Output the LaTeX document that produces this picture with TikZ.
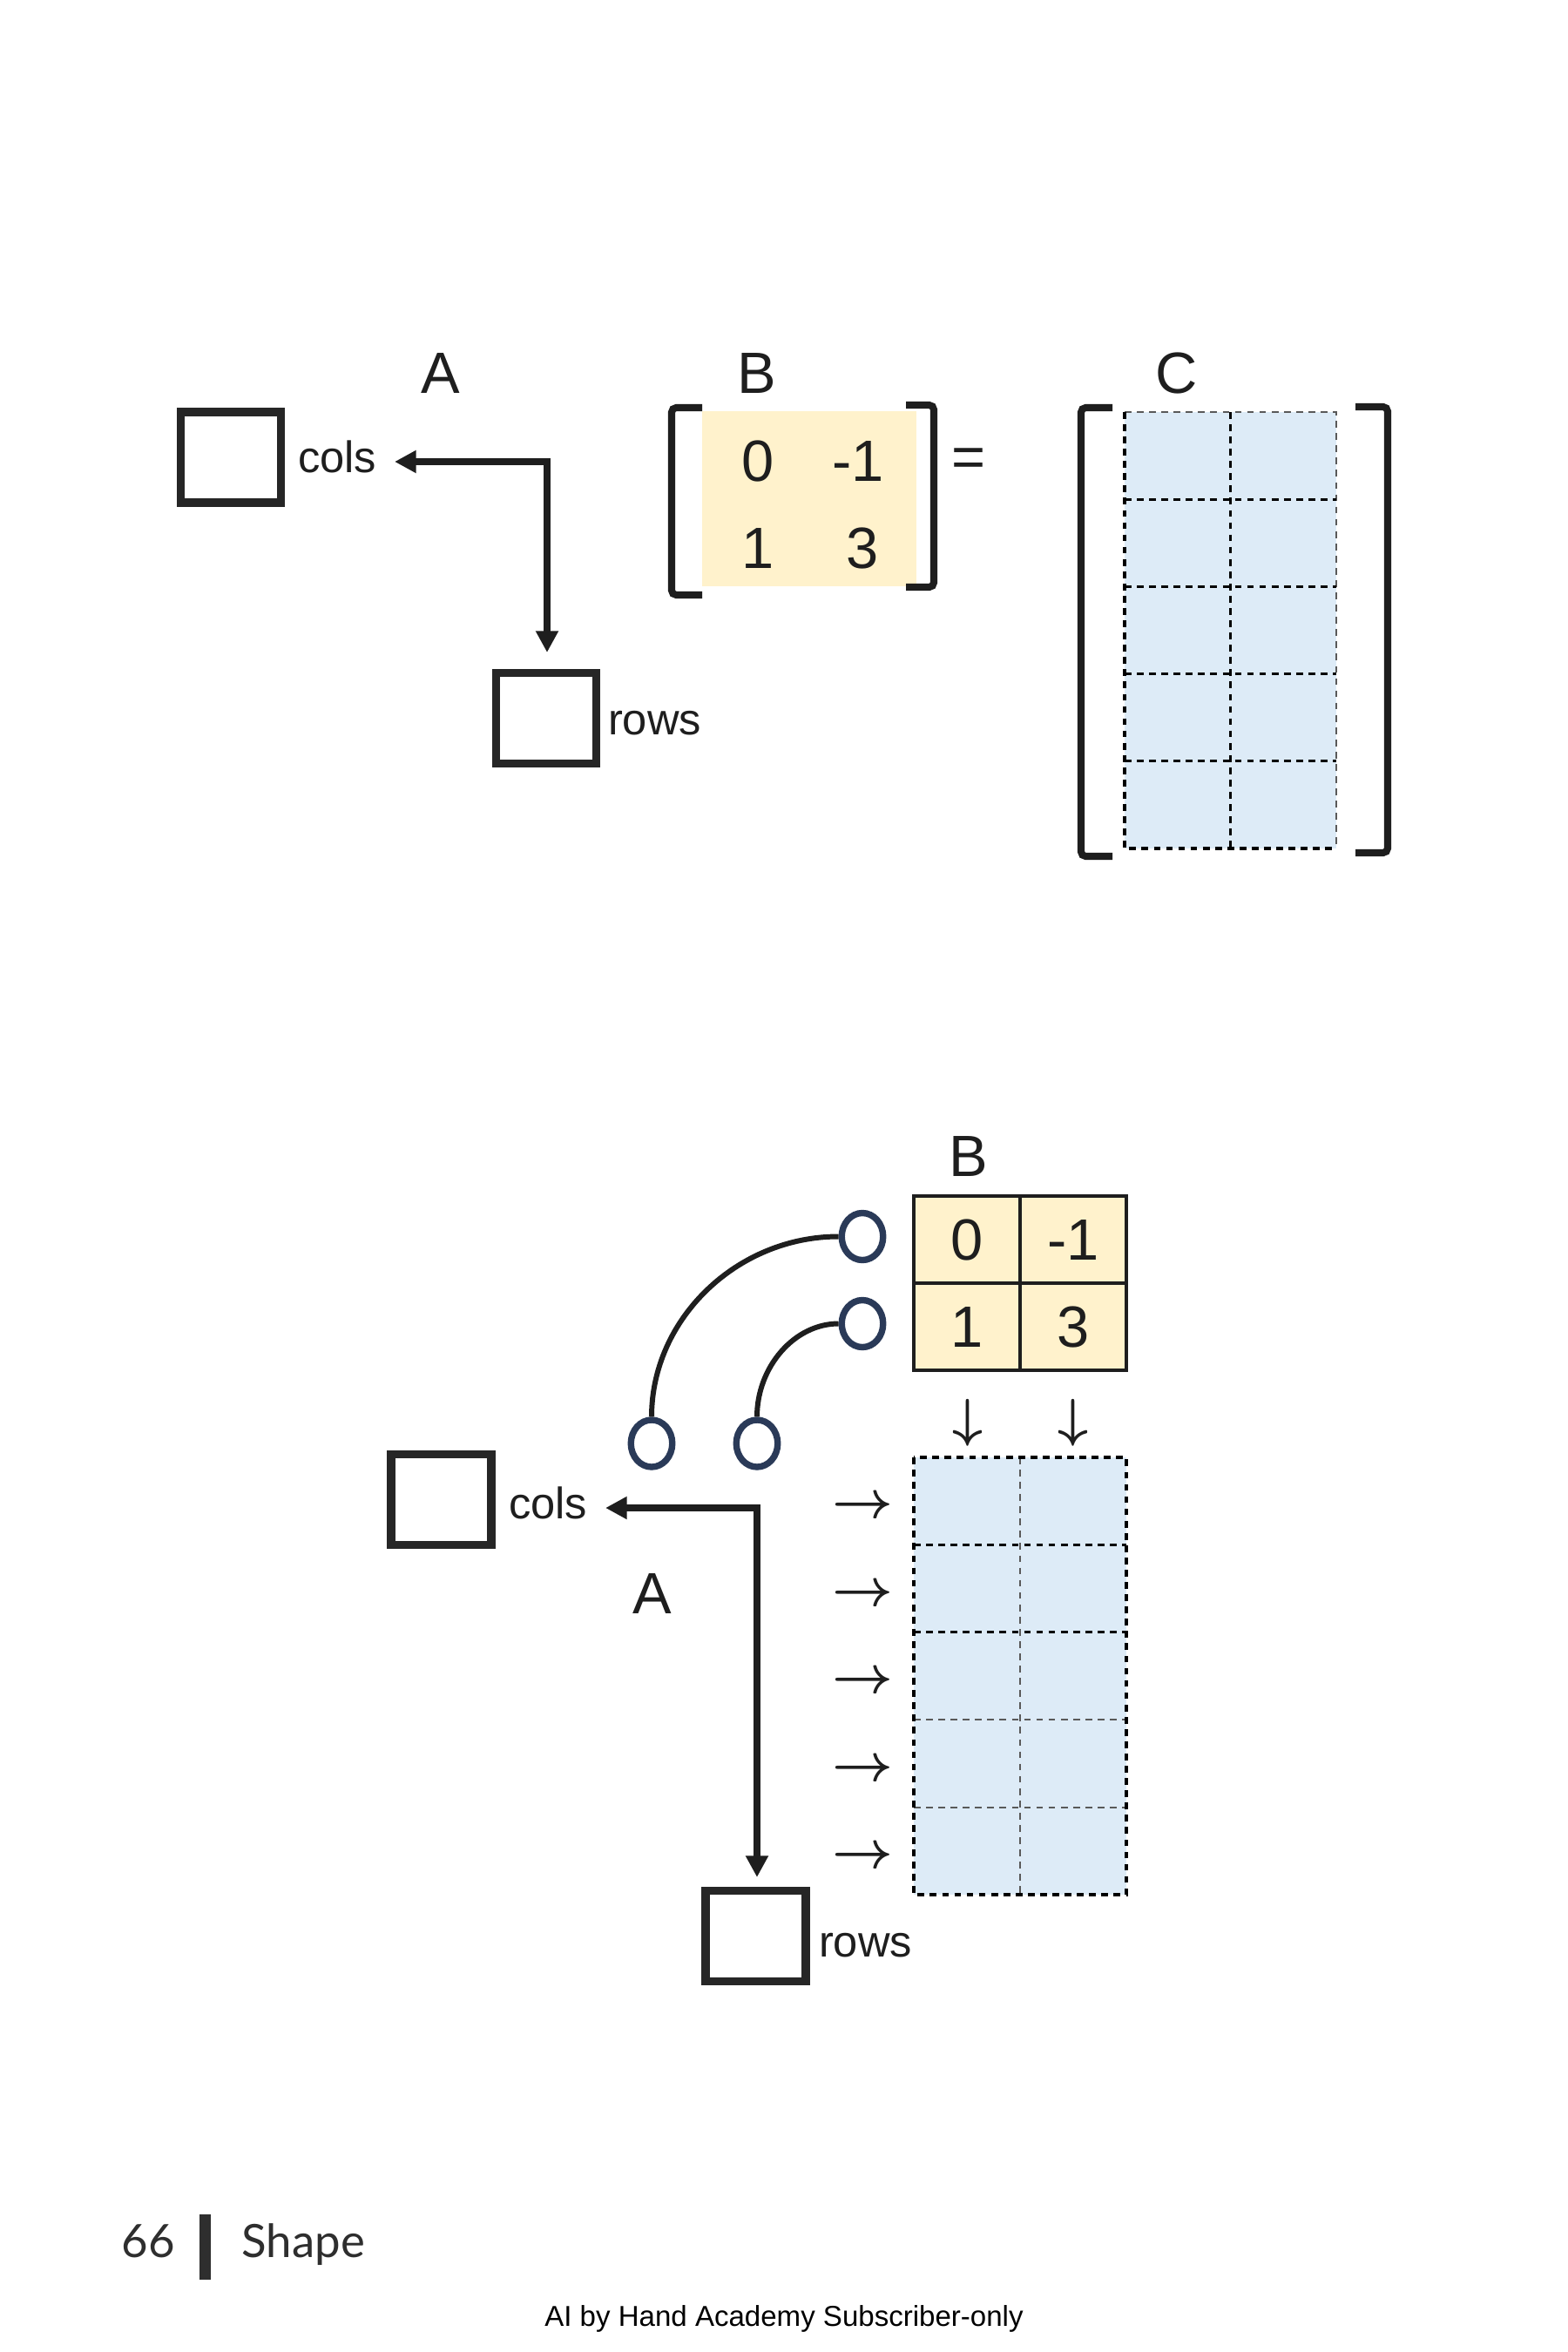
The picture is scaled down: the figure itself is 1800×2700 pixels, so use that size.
\documentclass[tikz,border=0pt]{standalone}
\usepackage{fontspec}
\setmainfont{Liberation Sans}
\newfontfamily\footfont{Lato}
\usetikzlibrary{arrows.meta,shapes.geometric}
\definecolor{ink}{HTML}{1E1E1E}
\definecolor{boxgray}{HTML}{262626}
\definecolor{byellow}{HTML}{FFF2CC}
\definecolor{cblue}{HTML}{DDEBF7}
\definecolor{navy}{HTML}{2A3A58}
\definecolor{footgray}{HTML}{2E2E2E}
\begin{document}
\begin{tikzpicture}[x=0.01cm,y=-0.01cm,
  sqbox/.style={draw=boxgray, line width=2.7pt, fill=white, minimum width=1.15cm, minimum height=1.04cm, inner sep=0pt, outer sep=0pt},
  lbl/.style={font=\fontsize{19}{22}\selectfont, text=ink, inner sep=0pt, outer sep=0pt},
  dimlbl/.style={font=\fontsize{14.4}{17}\selectfont, text=ink, inner sep=0pt, outer sep=0pt, anchor=base west},
  conn/.style={draw=ink, line width=2.1pt, {Triangle[length=7pt,width=7pt]}-{Triangle[length=7pt,width=7pt]}},
  brk/.style={draw=ink, line width=2.3pt, rounded corners=1.5pt},
  ell/.style={ellipse, draw=navy, line width=2.1pt, fill=white, minimum width=0.475cm, minimum height=0.54cm, inner sep=0pt},
  curv/.style={draw=ink, line width=1.7pt},
  bcell/.style={draw=ink, line width=1.1pt, fill=byellow, minimum width=1.22cm, minimum height=1.0cm, inner sep=0pt, font=\fontsize{19}{22}\selectfont, text=ink},
  dk/.style={draw=black, line width=0.9pt, dash pattern=on 2.2pt off 1.8pt},
  lt/.style={draw=black!65, line width=0.5pt, dash pattern=on 2.2pt off 1.8pt},
  sym/.style={font=\fontsize{17.5}{20}\selectfont\boldmath, text=ink, inner sep=0pt}
]
\useasboundingbox (0,0) rectangle (1800,2700);
\fill[white] (0,0) rectangle (1800,2700);

% ---------------- top section ----------------
\node[lbl, anchor=base] (Atop) at (506,451) {A};
\node[sqbox] (colsBox1) at (265,525) {};
\node[dimlbl] (colsT1) at (342,542) {cols};
\node[sqbox] (rowsBox1) at (627,824.5) {};
\node[dimlbl] (rowsT1) at (698,843) {rows};
\coordinate (k1) at (628,530);
\draw[conn, shorten <=0.21cm, shorten >=0.235cm] (k1 -| colsT1.east) -- (k1) -- (k1 |- rowsBox1.north);

% matrix B
\fill[byellow] (806,472) rectangle (1052,673);
\draw[brk] (806,468) -- (771,468) -- (771,683) -- (806,683);
\draw[brk] (1040,465) -- (1072,465) -- (1072,674) -- (1040,674);
\node[lbl, anchor=base] (Btop) at (869,451) {B};
\node[lbl, anchor=base] (t11) at (870,552) {0};
\node[lbl, anchor=base] (t12) at (985,552) {-1};
\node[lbl, anchor=base] (t21) at (870,652) {1};
\node[lbl, anchor=base] (t22) at (990,652) {3};
\node[lbl] (eq) at (1112,531) {=};

% matrix C
\node[lbl, anchor=base] (Ctop) at (1351,451) {C};
\fill[cblue] (1291,473) rectangle (1534,974);
\draw[lt] (1291,473) -- (1534,473) -- (1534,974);
\draw[dk] (1291,473) -- (1291,974) -- (1534,974);
\draw[dk] (1412.5,473) -- (1412.5,974);
\foreach \i in {1,...,4} \draw[dk] (1291,{473+\i*100.2}) -- (1534,{473+\i*100.2});
\draw[brk] (1277,468) -- (1241,468) -- (1241,983) -- (1277,983);
\draw[brk] (1556,467) -- (1593,467) -- (1593,979) -- (1556,979);

% ---------------- bottom section ----------------
\node[lbl, anchor=base] (Bbot) at (1112,1350) {B};
\node[bcell] (b11) at (1110,1423) {0};
\node[bcell] (b12) at (1232,1423) {-1};
\node[bcell] (b21) at (1110,1523) {1};
\node[bcell] (b22) at (1232,1523) {3};

\node[ell] (e1) at (990,1419.5) {};
\node[ell] (e2) at (990,1519.5) {};
\node[ell] (e3) at (748,1657) {};
\node[ell] (e4) at (869,1657) {};
\draw[curv] (e3.north) .. controls (748,1514) and (846,1419.5) .. (e1.west);
\draw[curv] (e4.north) .. controls (869,1569) and (912,1519.5) .. (e2.west);

\node[sym] (da1) at (1111,1633) {$\downarrow$};
\node[sym] (da2) at (1232,1633) {$\downarrow$};
\foreach \i in {1,...,5} \node[sym] (ra\i) at (990,{1731+(\i-1)*100.4}) {$\rightarrow$};

\fill[cblue] (1049,1673) rectangle (1293,2175);
\draw[lt] (1171,1673) -- (1171,2175);
\foreach \i in {3,4} \draw[lt] (1049,{1673+\i*100.4}) -- (1293,{1673+\i*100.4});
\foreach \i in {1,2} \draw[dk] (1049,{1673+\i*100.4}) -- (1293,{1673+\i*100.4});
\draw[dk] (1049,1673) rectangle (1293,2175);

\node[sqbox] (colsBox2) at (506.5,1721.5) {};
\node[dimlbl] (colsT2) at (584,1743) {cols};
\node[sqbox] (rowsBox2) at (867.5,2222.5) {};
\node[dimlbl] (rowsT2) at (940,2246) {rows};
\coordinate (k2) at (869,1731);
\draw[conn, shorten <=0.21cm, shorten >=0.155cm] (k2 -| colsT2.east) -- (k2) -- (k2 |- rowsBox2.north);
\node[lbl, anchor=base] (Abot) at (749,1852) {A};

% ---------------- footer ----------------
\node[font=\footfont\fontsize{15}{18}\selectfont, text=footgray, anchor=base west, inner sep=0pt] (pg) at (139,2591) {66};
\fill[footgray] (229,2542) rectangle (242,2617);
\node[font=\footfont\fontsize{15}{18}\selectfont, text=footgray, anchor=base west, inner sep=0pt] (sec) at (277,2591) {Shape};
\node[font=\fontsize{9.4}{11}\selectfont, text=black, anchor=base, inner sep=0pt] (credit) at (900,2670) {AI by Hand Academy Subscriber-only};
\end{tikzpicture}
\end{document}
